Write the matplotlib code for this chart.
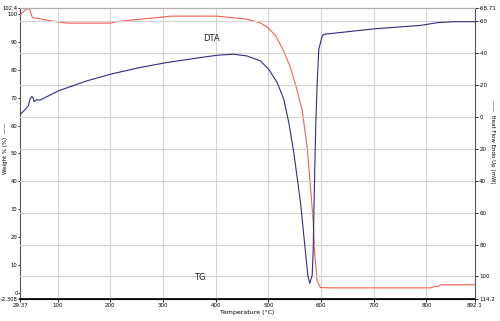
import matplotlib
matplotlib.use("Agg")
import matplotlib.pyplot as plt

# TG (weight %) curve
tg_temp = [30.1, 40.2, 44, 47.8, 52.2, 101, 117.5, 200, 219, 257, 300.6, 314, 402.6, 459.6,
           485, 497.6, 513.4, 528.6, 541.9, 554.6, 564.2, 573.7, 580, 585, 588, 592.6, 599,
           618, 808, 813.6, 823, 827, 892]
tg_weight = [100, 101.8, 102, 101.6, 98.8, 97.2, 96.8, 96.8, 97.5, 98.2, 99.0, 99.3, 99.3, 98.2,
             96.9, 95.4, 92.4, 87.0, 80.9, 72.6, 65.4, 52.2, 37.8, 25.8, 13.9, 4.2, 1.8,
             1.7, 1.7, 2.1, 2.3, 2.8, 2.8]

# DTA (heat flow) curve
dta_temp = [30.1, 38.3, 44.6, 47.8, 51.0, 54.1, 55.4, 57.9, 60.5, 66.8, 101.6, 155.6, 206.1,
            256.9, 307.6, 371.1, 402.6, 434.2, 459.6, 484.9, 500.7, 516.6, 529.2, 538.7, 548.2,
            560.9, 570.4, 574.8, 578.6, 583.2, 585.0, 586.2, 588.1, 590.0, 592.7, 595.7, 602.1,
            605.2, 675.0, 703.6, 789.1, 820.8, 851.8, 892]
dta_heat = [-1.9, -4.6, -7.1, -11.25, -12.9, -11.7, -9.6, -10.2, -10.8, -10.6, -16.4, -22.7, -27.3,
            -31.1, -34.2, -37.3, -38.75, -39.4, -38.3, -35.2, -30, -21.7, -11.25, 3.3, 22.1,
            53.3, 84.6, 99.2, 104.4, 99.2, 84.6, 63.75, 32.5, 4.4, -21.7, -42.5, -50.8,
            -51.9, -54.4, -55.4, -57.5, -59.2, -59.8, -59.8]

x_ticks = [29.37, 100, 200, 300, 400, 500, 600, 700, 800, 892.1]
x_ticklabels = ["29.37", "100", "200", "300", "400", "500", "600", "700", "800", "892.1"]
left_ticks = [-2.308, 0, 10, 20, 30, 40, 50, 60, 70, 80, 90, 100, 102.4]
left_ticklabels = ["-2.308", "0", "10", "20", "30", "40", "50", "60", "70", "80", "90", "100", "102.4"]
right_ticks = [-68.71, -60, -40, -20, 0, 20, 40, 60, 80, 100, 114.2]
right_ticklabels = ["-68.71", "-60", "-40", "-20", "0", "20", "40", "60", "80", "100", "114.2"]

TG_COLOR = "#f2604f"
DTA_COLOR = "#2e2e80"
GRID = "#d4d4d4"

fig = plt.figure(figsize=(5.0, 3.21), dpi=100)
ax = fig.add_axes([0.0406, 0.0685, 0.9094, 0.9081])
ax2 = ax.twinx()

ax.set_xlim(29.37, 892.1)
ax.set_ylim(-2.308, 102.4)
ax2.set_ylim(114.2, -68.71)

# grid: vertical from x ticks, horizontal from right axis
for t in x_ticks[1:-1]:
    ax.axvline(t, color=GRID, lw=0.8, zorder=0)
for t in right_ticks[1:-1]:
    ax2.axhline(t, color=GRID, lw=0.8, zorder=0)

ax.plot(tg_temp, tg_weight, color=TG_COLOR, lw=0.8, zorder=3)
ax2.plot(dta_temp, dta_heat, color=DTA_COLOR, lw=0.8, zorder=3)

ax.set_xticks(x_ticks)
ax.set_xticklabels(x_ticklabels)
ax.set_yticks(left_ticks)
ax.set_yticklabels(left_ticklabels)
ax2.set_yticks(right_ticks)
ax2.set_yticklabels(right_ticklabels)

for a in (ax, ax2):
    a.tick_params(labelsize=4, length=2, width=0.6, pad=1)
ax.tick_params(axis="y", labelsize=3.8, length=1.5, pad=0.5)

ax.spines["top"].set_color("#b0b0b0")
ax2.spines["top"].set_color("#b0b0b0")
ax.spines["left"].set_color("#555555")
ax2.spines["right"].set_color("#555555")
ax.spines["bottom"].set_color("black")
ax2.spines["bottom"].set_color("black")
ax.spines["bottom"].set_linewidth(1.2)
ax2.spines["left"].set_visible(False)
ax.spines["right"].set_visible(False)

ax.set_xlabel("Temperature (°C)", fontsize=4.5, labelpad=1)
fig.text(6 / 500, 1 - 148 / 321, "Weight % (%)  ——", fontsize=4, rotation=90,
         ha="center", va="center")
fig.text(493 / 500, 1 - 142 / 321, "——  Heat Flow Endo Up (mW)", fontsize=4, rotation=270,
         ha="center", va="center")

ax2.text(377, -48, "DTA", fontsize=6, color="#222222")
ax2.text(359, 102, "TG", fontsize=6, color="#222222")

fig.savefig("out.png", dpi=100)
